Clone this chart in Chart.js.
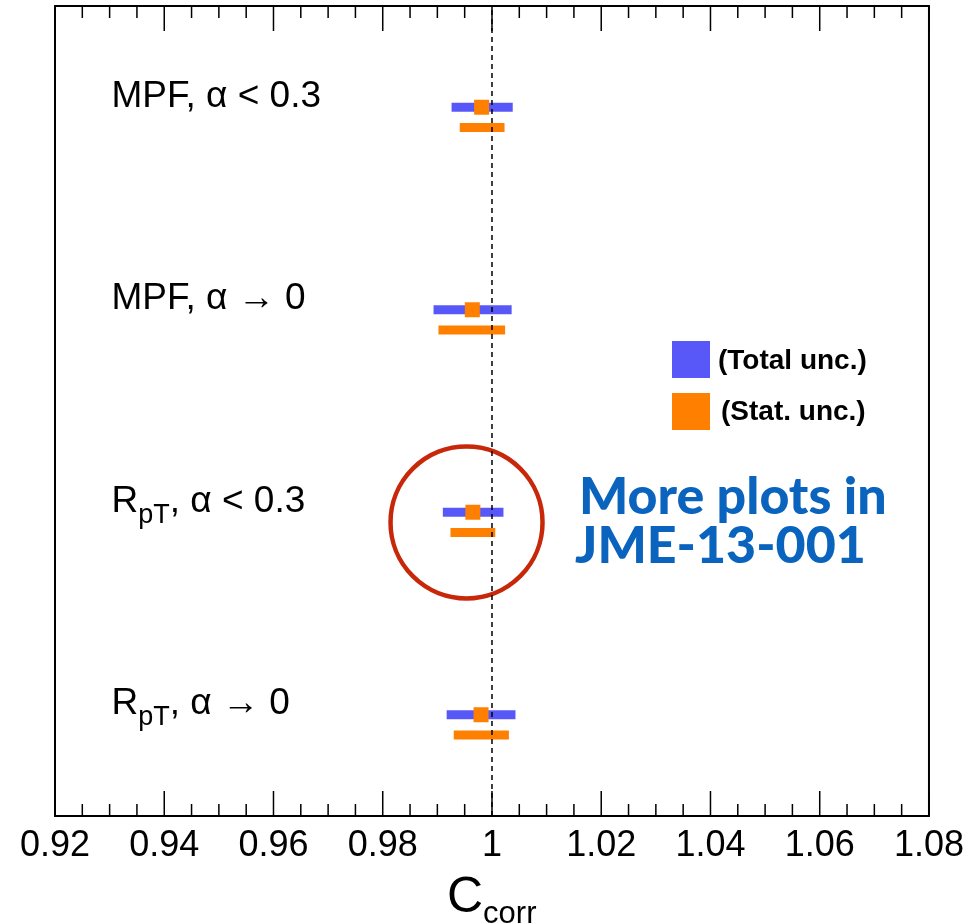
<!DOCTYPE html>
<html><head><meta charset="utf-8">
<script src="https://cdn.jsdelivr.net/npm/chart.js@4/dist/chart.umd.min.js"></script>
<style>html,body{margin:0;padding:0;background:#fff}#wrap{width:972px;height:924px;position:relative}</style>
</head><body><div id="wrap"><canvas id="c" width="972" height="924"></canvas></div>
<script>
// ---- data ----
const categories = ['MPF, α < 0.3', 'MPF, α → 0', 'R_{pT}, α < 0.3', 'R_{pT}, α → 0'];
const central  = [0.9981, 0.9964, 0.9965, 0.9980];
const totalLo  = [0.9926, 0.9893, 0.9910, 0.9917];
const totalHi  = [1.0038, 1.0036, 1.0021, 1.0043];
const statLo   = [0.9941, 0.9902, 0.9924, 0.9930];
const statHi   = [1.0023, 1.0024, 1.0006, 1.0031];
const tickValues = [0.92, 0.94, 0.96, 0.98, 1.00, 1.02, 1.04, 1.06, 1.08];
const tickLabels = ['0.92', '0.94', '0.96', '0.98', '1', '1.02', '1.04', '1.06', '1.08'];
const legendLabels = ['(Total unc.)', '(Stat. unc.)'];
const noteLines = ['More plots in', 'JME-13-001'];
const circleCenter = {x: 0.99534, y: 1.45};

// ---- layout / style ----
const rowPos = [3.5, 2.5, 1.5, 0.5];
const statShift = 0.1;
const BLUE = 'rgb(88,88,248)';
const ORANGE = 'rgb(255,128,0)';
const RED = 'rgb(200,40,10)';
const NOTE = 'rgb(10,100,190)';
const FONT = "'Liberation Sans', Arial, Helvetica, sans-serif";

const datasets = [];
// dashed reference line at 1 (drawn on top: first index)
datasets.push({type:'line', data:[{x:1,y:0},{x:1,y:4}], borderColor:'#000', borderWidth:1.5,
  borderDash:[5,4], pointRadius:0, fill:false});
// central markers
datasets.push({type:'scatter', data: central.map((c,i)=>({x:c, y:rowPos[i]})), pointStyle:'rect',
  pointRadius:10.6, backgroundColor:ORANGE, borderColor:ORANGE, borderWidth:0});
for (let i = 0; i < categories.length; i++) {
  datasets.push({type:'line', data:[{x:totalLo[i],y:rowPos[i]},{x:totalHi[i],y:rowPos[i]}],
    borderColor:BLUE, borderWidth:9, borderCapStyle:'butt', pointRadius:0, fill:false});
  datasets.push({type:'line', data:[{x:statLo[i],y:rowPos[i]-statShift},{x:statHi[i],y:rowPos[i]-statShift}],
    borderColor:ORANGE, borderWidth:9, borderCapStyle:'butt', pointRadius:0, fill:false});
}
// highlight circle
datasets.push({type:'scatter', data:[circleCenter], pointStyle:'circle', pointRadius:76,
  backgroundColor:'rgba(0,0,0,0)', borderColor:RED, borderWidth:4.5, clip:false});

function drawRich(ctx, text, x, y, size) {
  // supports X_{sub}
  const parts = text.split(/(_\{[^}]*\})/);
  let cx = x;
  ctx.textBaseline = 'alphabetic';
  ctx.textAlign = 'left';
  for (const p of parts) {
    if (!p) continue;
    if (p.startsWith('_{')) {
      const s = p.slice(2, -1);
      ctx.font = `${Math.round(size*0.72)}px ${FONT}`;
      ctx.fillText(s, cx, y + size*0.3);
      cx += ctx.measureText(s).width;
    } else {
      ctx.font = `${size}px ${FONT}`;
      ctx.fillText(p, cx, y);
      cx += ctx.measureText(p).width;
    }
  }
}

const decor = {
  id:'decor',
  afterDatasetsDraw(chart) {
    const ctx = chart.ctx, a = chart.chartArea, xs = chart.scales.x, ys = chart.scales.y;
    ctx.save();
    // frame
    ctx.strokeStyle = '#000'; ctx.lineWidth = 2;
    ctx.strokeRect(a.left, a.top, a.right - a.left, a.bottom - a.top);
    // ticks (inside, top and bottom)
    ctx.lineWidth = 1.5;
    const nMinor = Math.round((xs.max - xs.min) / 0.005);
    for (let k = 0; k <= nMinor; k++) {
      const v = xs.min + k * 0.005;
      const px = xs.getPixelForValue(v);
      const major = k % 4 === 0;
      const len = major ? 25 : 12;
      ctx.beginPath();
      ctx.moveTo(px, a.bottom); ctx.lineTo(px, a.bottom - len);
      ctx.moveTo(px, a.top); ctx.lineTo(px, a.top + len);
      ctx.stroke();
    }
    // row labels
    ctx.fillStyle = '#000';
    categories.forEach((c, i) => {
      drawRich(ctx, c, a.left + 56.5, ys.getPixelForValue(rowPos[i]) - 0.5, 37);
    });
    // legend
    const lg = [[BLUE, legendLabels[0], 341, 369, 718], [ORANGE, legendLabels[1], 393, 420, 721]];
    lg.forEach(([col, txt, top, base, tx]) => {
      ctx.fillStyle = col; ctx.fillRect(672, top, 38, 37);
      ctx.fillStyle = '#000'; ctx.font = `bold 28px ${FONT}`;
      ctx.textAlign = 'left'; ctx.textBaseline = 'alphabetic';
      ctx.fillText(txt, tx, base);
    });
    // note
    ctx.fillStyle = NOTE;
    ctx.font = `900 48px Lato, 'Open Sans', sans-serif`;
    const w0 = ctx.measureText(noteLines[0]).width;
    const fs = 48 * 308 / w0;
    ctx.font = `900 ${fs.toFixed(1)}px Lato, 'Open Sans', sans-serif`;
    ctx.fillText(noteLines[0], 579, 514);
    ctx.fillText(noteLines[1], 575, 563);
    // axis title C_corr
    ctx.fillStyle = '#000';
    ctx.font = `50px ${FONT}`;
    ctx.fillText('C', 447, 912);
    const cw = ctx.measureText('C').width;
    ctx.font = `31px ${FONT}`;
    ctx.fillText('corr', 447 + cw, 923);
    ctx.restore();
  }
};

new Chart(document.getElementById('c'), {
  type:'scatter',
  data:{datasets},
  options:{
    responsive:false, animation:false, devicePixelRatio:1,
    layout:{autoPadding:false, padding:{left:55, right:41, top:6, bottom:0}},
    plugins:{legend:{display:false}, tooltip:{enabled:false}},
    scales:{
      x:{type:'linear', min:0.92, max:1.08, position:'bottom',
        grid:{display:false, drawTicks:false}, border:{display:false},
        afterBuildTicks:s=>{ s.ticks = tickValues.map(v=>({value:v})); },
        afterFit:s=>{ s.height = 108; },
        ticks:{font:{family:FONT, size:36}, color:'#000', padding:8, maxRotation:0, autoSkip:false,
          callback:(v,i)=>tickLabels[i]}},
      y:{type:'linear', min:0, max:4, display:false}
    }
  },
  plugins:[decor]
});
</script></body></html>
